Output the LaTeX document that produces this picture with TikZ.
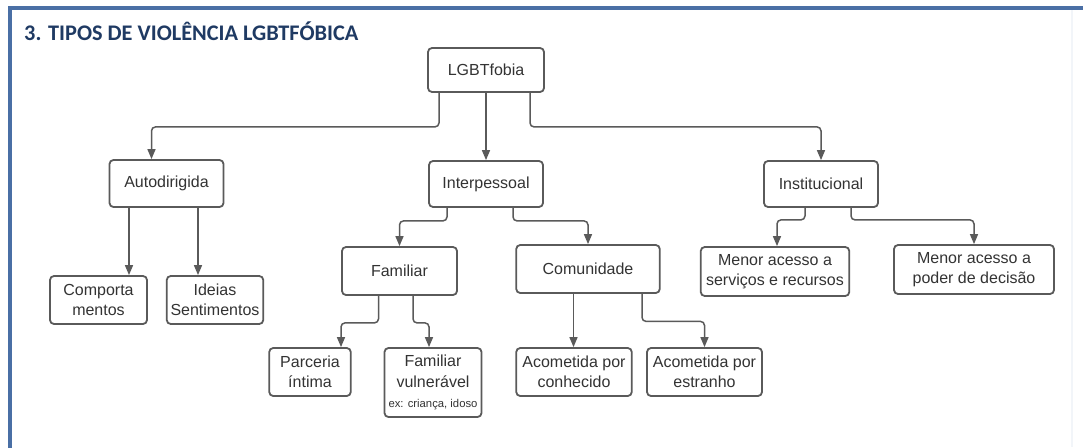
\documentclass[tikz,border=0pt]{standalone}
\usepackage{fontspec}
\setmainfont{Liberation Sans}
\newfontfamily\titlefont{Carlito}
\usetikzlibrary{arrows.meta,positioning}
\definecolor{framebl}{HTML}{4A6FA5}
\definecolor{titlebl}{HTML}{1F3A63}
\definecolor{boxgray}{HTML}{5A5A5A}
\definecolor{textgray}{HTML}{333333}

\begin{document}
\begin{tikzpicture}[x=1pt,y=-1pt,
    box/.style={draw=boxgray,
                line width=1.8pt,
                rounded corners=4pt,
                fill=white,
                text=textgray,
                align=center,
                inner sep=2pt,
                font=\fontsize{16}{20.5}\selectfont},
    link/.style={draw=boxgray,
                 line width=1.5pt,
                 rounded corners=4pt,
                 ->,
                 >={Triangle[length=10pt,width=8pt]}}]

   \useasboundingbox (0,0) rectangle (1083,447);
   \fill[white] (0,0) rectangle (1083,447);
   \draw[framebl!7, line width=1.5pt] (1072,9) -- (1072,447);
   \draw[framebl, line width=4pt] (9.7,460) -- (9.7,7.5) -- (1090,7.5);

   \node[anchor=base west,
         inner sep=0pt,
         text=titlebl,
         font=\titlefont\bfseries\fontsize{22.3}{26}\selectfont] (title) at (24,40.6)
         {3. TIPOS DE VIOLÊNCIA LGBTFÓBICA};

   \node[box, minimum width=116pt, minimum height=44pt] (lgbt) at (486,70) {LGBTfobia};

   \node[box, minimum width=114pt, minimum height=47pt] (auto) at (166.5,183.5) {Autodirigida};
   \node[box, minimum width=114pt, minimum height=46pt] (inter) at (486,184) {Interpessoal};
   \node[box, minimum width=114pt, minimum height=46pt] (inst) at (821,184) {Institucional};

   \node[box, minimum width=97pt, minimum height=48pt] (comp) at (98.5,300) {Comporta\\mentos};
   \node[box, minimum width=96.5pt, minimum height=48pt] (ideias) at (215,300) {Ideias\\Sentimentos};

   \node[box, minimum width=115pt, minimum height=48pt] (fam) at (399.5,271) {Familiar};
   \node[box, minimum width=143.5pt, minimum height=48pt] (comu) at (588,269) {Comunidade};

   \node[box, minimum width=81.5pt, minimum height=48pt] (parc) at (310,372) {Parceria\\íntima};
   \node[box, minimum width=97pt, minimum height=69pt] (vuln) at (433,382.5)
        {Familiar\\vulnerável\\{\fontsize{11.3}{13}\selectfont ex: criança, idoso}};
   \node[box, minimum width=115.5pt, minimum height=48pt] (conh) at (574,372) {Acometida por\\conhecido};
   \node[box, minimum width=115pt, minimum height=48pt] (estr) at (704.5,372) {Acometida por\\estranho};

   \node[box, minimum width=148.5pt, minimum height=49pt] (serv) at (775,271.5) {Menor acesso a\\serviços e recursos};
   \node[box, minimum width=160pt, minimum height=49pt] (poder) at (974,269.5) {Menor acesso a\\poder de decisão};

   % Connect the boxes with elbow arrows
   \draw[link] ([xshift=-47pt]lgbt.south) -- ++(0,34) -| ([xshift=-15pt]auto.north);
   \draw[link] (lgbt.south) -- (lgbt.south |- inter.north);
   \draw[link] ([xshift=44pt]lgbt.south) -- ++(0,34) -| (inst.north);

   \draw[link] ([xshift=-37.5pt]auto.south) -- ([xshift=-37.5pt]auto.south |- comp.north);
   \draw[link] ([xshift=31.5pt]auto.south) -- ([xshift=31.5pt]auto.south |- ideias.north);

   \draw[link] ([xshift=-39pt]inter.south) -- ++(0,13) -| (fam.north);
   \draw[link] ([xshift=27pt]inter.south) -- ++(0,13) -| (comu.north);

   \draw[link] ([xshift=-21pt]fam.south) -- ++(0,27) -| ([xshift=31pt]parc.north);
   \draw[link] ([xshift=13.5pt]fam.south) -- ++(0,27) -| ([xshift=-4pt]vuln.north);

   \draw[link] ([xshift=-14.5pt]comu.south) -- ([xshift=-14.5pt]comu.south |- conh.north);
   \draw[link] ([xshift=54pt]comu.south) -- ++(0,27.5) -| (estr.north);

   \draw[link] ([xshift=-16pt]inst.south) -- ++(0,12) -| ([xshift=2pt]serv.north);
   \draw[link] ([xshift=30pt]inst.south) -- ++(0,12) -| (poder.north);
\end{tikzpicture}
\end{document}
